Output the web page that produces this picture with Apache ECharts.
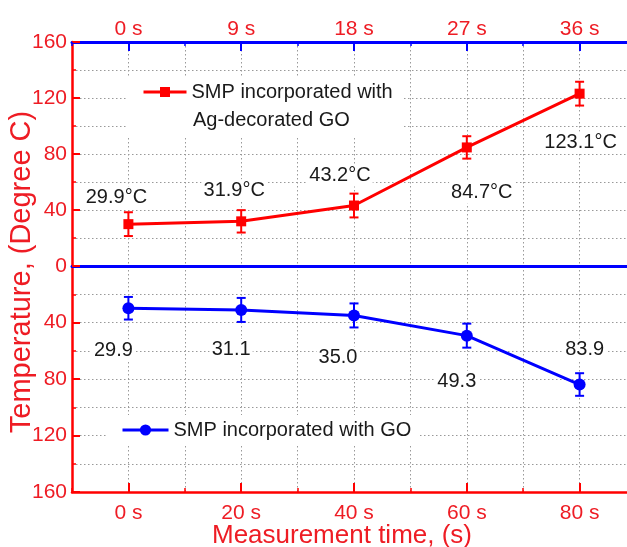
<!DOCTYPE html>
<html>
<head>
<meta charset="utf-8">
<script src="https://cdn.jsdelivr.net/npm/echarts@6/dist/echarts.min.js"></script>
<style>
  html, body { margin: 0; padding: 0; background: #fff; }
  #chart { width: 627px; height: 547px; }
</style>
</head>
<body>
<div id="chart"></div>
<script>
// top half: SMP + Ag-decorated GO, top time axis
var agTimes = [0, 9, 18, 27, 36];
var agTemps = [29.9, 31.9, 43.2, 84.7, 123.1];
var agErr = [8.5, 8, 8.5, 8, 8.5];
var agTicks = [0, 9, 18, 27, 36];

// bottom half: SMP + GO, bottom time axis
var goTimes = [0, 20, 40, 60, 80];
var goTemps = [29.9, 31.1, 35.0, 49.3, 83.9];
var goErr = [8, 8.5, 8.5, 8.5, 8];
var goTicks = [0, 20, 40, 60, 80];

var RED = '#ff0000';
var BLUE = '#0000ff';
var TXT_RED = '#ee1c24';
var FONT = '"Liberation Sans", Arial, sans-serif';

// where the value labels sit relative to their point (px)
var agLabelOffsets = [[-12, -27], [-7, -31], [-14, -30], [15, 45], [1, 49]];
var goLabelOffsets = [[-15, 42], [-10, 40], [-16, 42], [-10, 46], [5, -35]];

var L = 72, W = 564;
var TOP = 42, MID = 266, BOT = 492;

function errorBar(params, api) {
    var x = api.value(0);
    var p1 = api.coord([x, api.value(2)]);
    var p2 = api.coord([x, api.value(1)]);
    var c = api.visual('color');
    var w = 4.5;
    var st = { stroke: c, lineWidth: 2 };
    return {
        type: 'group',
        children: [
            { type: 'line', shape: { x1: p1[0], y1: p1[1], x2: p2[0], y2: p2[1] }, style: st },
            { type: 'line', shape: { x1: p1[0] - w, y1: p1[1], x2: p1[0] + w, y2: p1[1] }, style: st },
            { type: 'line', shape: { x1: p2[0] - w, y1: p2[1], x2: p2[0] + w, y2: p2[1] }, style: st }
        ]
    };
}

function pts(xs, ys, offs, fmt) {
    return xs.map(function (x, i) {
        return { value: [x, ys[i]], label: { offset: offs[i], formatter: fmt(ys[i]) } };
    });
}
function bars(xs, ys, es) {
    return xs.map(function (x, i) { return [x, ys[i] - es[i], ys[i] + es[i]]; });
}

var dotted = { show: true, lineStyle: { color: '#999', type: [1.5, 2.5], width: 1 } };
var valueLabel = {
    show: true, position: 'inside', color: '#1a1a1a', fontSize: 20, fontFamily: FONT,
    backgroundColor: '#fff', padding: [1, 2]
};

function box(top, height) {
    return { left: L, width: W, top: top, height: height, outerBoundsMode: 'none' };
}

var chart = echarts.init(document.getElementById('chart'));
chart.setOption({
    animation: false,
    backgroundColor: '#fff',
    textStyle: { fontFamily: FONT },
    grid: [
        box(TOP, MID - TOP),
        box(MID, BOT - MID),
        box(TOP, MID - TOP),
        box(MID, BOT - MID),
        box(TOP + 5, BOT - TOP)
    ],
    xAxis: [
        {
            gridIndex: 0, type: 'value', position: 'top', min: -4.5, max: 40.5, interval: 4.5,
            axisLine: { onZero: false, lineStyle: { color: BLUE, width: 3 } },
            axisTick: { inside: true, length: 9, customValues: agTicks, lineStyle: { color: BLUE, width: 2 } },
            axisLabel: {
                customValues: agTicks, color: TXT_RED, fontSize: 21, margin: 2,
                formatter: function (v) { return v + ' s'; }
            },
            splitLine: { show: false }
        },
        {
            gridIndex: 0, type: 'value', position: 'bottom', min: -4.5, max: 40.5,
            axisLine: { onZero: false, lineStyle: { color: BLUE, width: 3 } },
            axisTick: { show: false }, axisLabel: { show: false }, splitLine: { show: false }
        },
        {
            gridIndex: 1, type: 'value', position: 'bottom', min: -10, max: 90, interval: 10,
            axisLine: { onZero: false, lineStyle: { color: RED, width: 2.5 } },
            axisTick: { inside: true, length: 9, customValues: goTicks, lineStyle: { color: RED, width: 2 } },
            axisLabel: {
                customValues: goTicks, color: TXT_RED, fontSize: 21, margin: 11,
                formatter: function (v) { return v + ' s'; }
            },
            splitLine: { show: false },
            name: 'Measurement time, (s)', nameLocation: 'middle', nameGap: 31,
            nameMoveOverlap: false,
            nameTextStyle: { color: TXT_RED, fontSize: 26, padding: [0, 24, 0, 0] }
        },
        {
            gridIndex: 2, type: 'value', position: 'top', min: -4.5, max: 40.5, interval: 4.5,
            axisLine: { show: false, onZero: false },
            axisTick: { inside: true, length: 4, lineStyle: { color: BLUE, width: 1.5 } },
            axisLabel: { show: false }, splitLine: dotted
        },
        {
            gridIndex: 3, type: 'value', position: 'bottom', min: -10, max: 90, interval: 10,
            axisLine: { show: false, onZero: false },
            axisTick: { inside: true, length: 4, lineStyle: { color: RED, width: 1.5 } },
            axisLabel: { show: false }, splitLine: dotted
        },
        { gridIndex: 4, type: 'value', show: false, min: 0, max: 1 }
    ],
    yAxis: [
        {
            gridIndex: 0, type: 'value', min: 0, max: 160, interval: 40,
            axisLine: { show: true, onZero: false, lineStyle: { color: RED, width: 2.5 } },
            axisTick: { show: true, inside: true, length: 8, lineStyle: { color: RED, width: 2 } },
            minorTick: { show: true, splitNumber: 2, length: 4, lineStyle: { color: RED, width: 1.5 } },
            axisLabel: { color: TXT_RED, fontSize: 21, margin: 5 },
            splitLine: dotted, minorSplitLine: dotted
        },
        {
            gridIndex: 1, type: 'value', inverse: true, min: 0, max: 160, interval: 40,
            axisLine: { show: true, onZero: false, lineStyle: { color: RED, width: 2.5 } },
            axisTick: { show: true, inside: true, length: 8, lineStyle: { color: RED, width: 2 } },
            minorTick: { show: true, splitNumber: 2, length: 4, lineStyle: { color: RED, width: 1.5 } },
            axisLabel: {
                color: TXT_RED, fontSize: 21, margin: 5,
                formatter: function (v) { return v === 0 ? '' : String(v); }
            },
            splitLine: dotted, minorSplitLine: dotted
        },
        { gridIndex: 2, type: 'value', show: false, min: 0, max: 160 },
        { gridIndex: 3, type: 'value', show: false, inverse: true, min: 0, max: 160 },
        {
            gridIndex: 4, type: 'value', min: 0, max: 1,
            axisLine: { show: false, onZero: false }, axisTick: { show: false }, axisLabel: { show: false },
            splitLine: { show: false },
            name: 'Temperature, (Degree C)', nameLocation: 'middle', nameGap: 36,
            nameMoveOverlap: false,
            nameTextStyle: { color: TXT_RED, fontSize: 29 }
        }
    ],
    legend: [
        {
            data: ['SMP incorporated with Ag-decorated GO'],
            selectedMode: false, left: 127, top: 77,
            itemWidth: 43, itemHeight: 12.5, itemGap: 0,
            backgroundColor: '#fff', padding: [3, 10, 33, 15],
            lineStyle: { width: 3 },
            formatter: function () { return 'SMP incorporated with'; },
            textStyle: { color: '#1a1a1a', fontSize: 20, lineHeight: 24 }
        },
        {
            data: ['SMP incorporated with GO'],
            selectedMode: false, left: 107, top: 415,
            itemWidth: 46, itemHeight: 14, itemGap: 0,
            backgroundColor: '#fff', padding: [3, 7, 3, 14],
            lineStyle: { width: 3 },
            textStyle: { color: '#1a1a1a', fontSize: 20, lineHeight: 24 }
        }
    ],
    graphic: [
        {
            type: 'text', left: 193, top: 110, z: 10,
            style: { text: 'Ag-decorated GO', fill: '#1a1a1a', font: '20px ' + FONT }
        }
    ],
    series: [
        {
            name: 'SMP incorporated with Ag-decorated GO', type: 'line',
            xAxisIndex: 0, yAxisIndex: 0,
            symbol: 'rect', symbolSize: 10,
            lineStyle: { color: RED, width: 3 }, itemStyle: { color: RED },
            label: valueLabel,
            data: pts(agTimes, agTemps, agLabelOffsets, function (v) { return v.toFixed(1) + '°C'; }),
            z: 5
        },
        {
            type: 'custom', xAxisIndex: 0, yAxisIndex: 0,
            itemStyle: { color: RED }, renderItem: errorBar,
            data: bars(agTimes, agTemps, agErr), z: 4
        },
        {
            name: 'SMP incorporated with GO', type: 'line',
            xAxisIndex: 2, yAxisIndex: 1,
            symbol: 'circle', symbolSize: 12,
            lineStyle: { color: BLUE, width: 3 }, itemStyle: { color: BLUE },
            label: valueLabel,
            data: pts(goTimes, goTemps, goLabelOffsets, function (v) { return v.toFixed(1); }),
            z: 5
        },
        {
            type: 'custom', xAxisIndex: 2, yAxisIndex: 1,
            itemStyle: { color: BLUE }, renderItem: errorBar,
            data: bars(goTimes, goTemps, goErr), z: 4
        }
    ]
});
</script>
</body>
</html>
